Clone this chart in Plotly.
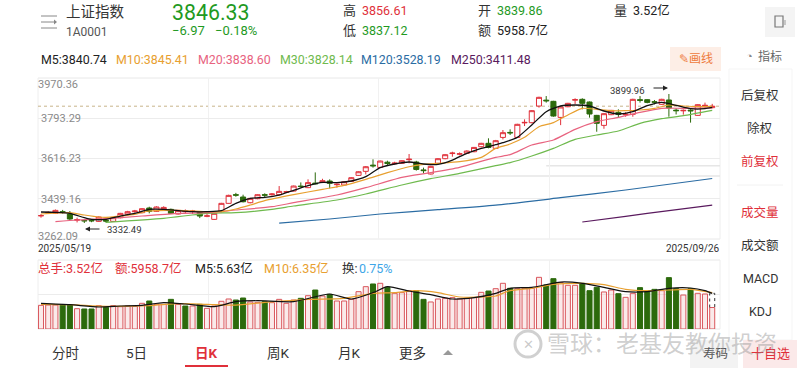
import plotly.graph_objects as go

# ---------- data ----------
opens = [3364,3376,3375,3382,3372,3345,3344,3344,3339.7,3344,3339.7,3355.8,3372,3382,3377.8,3398.4,3383.7,3392.5,3392.5,3372,3382,3383,3380.8,3362,3348.5,3382.2,3418.9,3457,3446.8,3421.8,3439.4,3457,
3457,3457,3468,3473,3495,3488,3508,3511,3517,3501,3499.6,3515.7,3542,3559.7,3587,3577,3600,3593,3595,3611,3600.8,3566,3548,3595,3615.4,3638,3635,3639,3646,3668,3683,
3660.9,3709,3731,3709,3773,3773.8,3847,3873,3867.7,3797,3844,3873,3876.5,3864.8,3806,3762,3809,3819,3809,3810.5,3875,3875,3866,3854.5,3873.6,3829,3826,3829,3806,3847,3839.86]
closes = [3365,3379,3388,3380,3350,3347,3342,3342,3358.8,3341,3355.8,3374.9,3382.2,3385,3395.4,3383.7,3402.8,3401,3375,3388,3385,3385,3363,3364,3375,3418.9,3454,3455,3426,3440.9,3457,3455,
3460,3471.7,3470,3495,3493,3510,3505,3518.6,3507,3503,3514,3531.8,3558,3580,3584,3605,3594,3596,3606.6,3613,3568,3563,3581.7,3615.4,3633,3640,3637,3649,3665,3683,3665,
3694.6,3729.8,3729,3766.5,3775,3826.6,3885.3,3870,3803,3842.8,3858.9,3875,3858.9,3812,3771,3813.4,3828,3810.5,3811,3876.5,3872,3863,3864,3876.5,3838,3826.6,3828,3826,3853,3850,3846.33]
highs = [3372,3384,3392,3390,3385,3356,3348,3349,3362,3350,3358,3377,3386,3390,3398,3404,3406,3406,3396,3390,3392,3390,3384,3372,3377,3421,3457,3465,3457,3443,3459,3463,
3464,3495,3474,3497,3511,3524.5,3555,3527,3524.5,3507,3517,3534,3560,3583,3612.5,3607,3606.6,3602,3609,3636,3606,3576,3584,3618,3635,3646,3643,3652,3667,3685,3705,
3698,3741.6,3744.5,3769,3788.5,3829,3888,3891,3870,3845,3861,3881,3881,3867,3808,3816,3830,3832.5,3820,3879,3891,3877,3873.6,3879,3899.96,3837,3832,3833,3855,3862,3856.61]
lows = [3356,3372,3372,3374,3346,3335,3332.49,3336,3337,3334,3338,3353,3370,3378,3375,3375,3381,3390,3372,3370,3375,3372,3354,3358,3346,3380,3417,3448,3423,3419,3437,3447,
3453,3455,3464,3471,3489,3486,3503,3508,3485,3488,3497,3514,3540,3546,3576,3575,3586,3589,3593,3595,3563,3551,3546,3593,3613,3624,3630,3637,3644,3666,3661,
3658,3700,3719.6,3707,3759,3771,3840,3862,3800,3763,3842,3856,3832.5,3796,3734,3747,3807,3797,3800,3800,3862,3859,3854.5,3852,3800,3810,3809,3774,3804,3837,3837.12]

m5_x = [0,2,4,6,7,9,11,13,15,17,19,21,23,25,27,29,31,33,35,37,39,41,43,45,47,49,51,53,55,57,59,61,63,64,66,68,70,72,74,76,78,80,82,84,86,88,90,92,93]
m5 = [3380.8,3379.3,3374.9,3355.8,3348.5,3348.5,3363,3375,3392.5,3392.5,3386.6,3382.2,3382.2,3386.6,3418.9,3440.9,3445.3,3455.5,3476,3496.6,3511.3,3509.8,3517.2,3536.2,3575.8,3592,3600.8,3592,3590.5,3609.5,3638.9,3660.9,3677,3685.8,3709.3,3763.6,3822.2,3847.2,3851.6,3847.2,3825.2,3812,3822.2,3848.6,3863.3,3850,3835.4,3835.4,3840.74]
m10_x = [0,4,6,8,9,11,13,15,19,23,25,27,29,31,35,39,42,45,48,51,53,55,58,61,63,65,67,69,71,73,75,77,79,81,83,85,87,89,91,93]
m10 = [3372,3377.8,3367.6,3358.8,3357.3,3363.2,3370.5,3385.2,3388,3382.2,3382.2,3394,3411.6,3430.6,3457,3480.5,3498,3524.5,3553.8,3580,3590.5,3594.9,3602.2,3621.3,3660.9,3680,3709.3,3756.2,3773.8,3807.6,3836.9,3832.5,3826.6,3826.6,3829.6,3836.9,3851.6,3847.2,3844.2,3845.41]
m20_x = [2,5,9,14,19,23,27,32,35,41,45,50,54,58,63,65,68,71,74,77,80,83,86,89,93]
m20 = [3338.2,3345.6,3351.4,3363.2,3375,3377.8,3389.6,3404.2,3421.8,3455.6,3487.8,3533.3,3553.8,3577.3,3621.3,3633,3675.6,3697.6,3744.5,3778.2,3797.3,3819.3,3836.9,3836.9,3838.6]
m30_x = [9,17,23,27,32,35,41,45,50,54,58,63,65,68,71,74,77,80,83,86,89,93]
m30 = [3335.3,3352.9,3375,3377.8,3392.5,3407.2,3433.6,3460,3499.6,3527.4,3550.9,3584.6,3597.8,3627.2,3660.9,3700.5,3719.6,3737.2,3770.9,3791.4,3804.6,3828.14]
m120_x = [33,40,47,55,63,72,81,93]
m120 = [3332,3350,3372,3391,3411,3443.7,3477.6,3528.19]
m250_x = [75,81,87,93]
m250 = [3337,3362,3387,3411.48]

volumes = [3.88,3.93,3.93,3.93,3.93,3.33,3.28,3.28,3.83,3.55,3.83,3.66,3.77,3.72,4.21,4.59,4.04,4.04,4.86,4.04,3.77,3.77,4.04,3.39,3.77,4.54,4.92,4.75,5.08,4.43,4.37,4.48,
4.32,4.86,4.21,4.75,5.03,5.46,6.39,5.41,5.68,4.59,4.59,4.86,6.12,6.94,7.38,7.49,6.83,5.85,5.96,6.28,6.28,4.86,4.43,4.92,5.03,5.14,4.92,5.03,5.14,6.01,6.23,
6.61,7.49,6.67,6.61,6.67,6.67,8.47,7.21,8.25,7.6,7.16,7.16,7.49,6.28,6.83,6.07,6.39,5.79,5.19,5.85,6.78,6.12,6.5,6.28,8.42,6.61,5.57,6.61,5.85,5.74,3.52]
down_vol_days = [3,4,6,7,9,15,18,20,22,27,28,31,36,38,40,46,48,52,53,62,65,70,71,75,76,77,80,83,84,85,87,88,90]
forecast_volume = 5.85
vol_m5_x = [0,4,8,11,14,17,20,24,27,30,35,40,43,46,48,51,54,57,60,63,65,68,72,75,78,81,84,87,90,92,93]
vol_m5 = [4.21,3.99,3.61,3.77,3.88,4.32,4.10,3.66,4.48,4.64,4.48,5.74,4.92,5.96,6.94,6.23,5.63,4.92,5.14,5.85,6.67,6.83,7.7,7.49,6.83,6.12,6.12,6.67,6.72,6.28,5.85]
vol_m10_x = [0,4,9,15,19,23,27,31,37,42,46,49,52,55,58,62,63,65,68,71,75,78,81,84,87,90,93]
vol_m10 = [4.04,3.99,3.72,3.83,4.15,4.04,3.93,4.37,4.86,5.03,5.85,5.96,6.28,5.96,5.25,5.30,5.41,6.28,6.67,7.32,7.49,7.27,6.5,6.28,6.39,6.5,5.96]

price_ticks = [3262.09, 3439.16, 3616.23, 3793.29, 3970.36]
price_labels = ["", "3439.16", "3616.23", "3793.29", ""]
last_price = 3846.33
level_lines = [(70, 3584.6), (54, 3539)]

# ---------- styles ----------
RED, GREEN_UP = "#e0303a", "#1f9a1f"
K_GREEN = "#2c6a0c"
W, H = 800, 368
PL, PR, PT, PB, VT, VB = 38, 720, 78, 239, 260, 329
xr = [-0.416, 94.08]
CJK = "Roboto, 'Noto Sans CJK SC', sans-serif"

fig = go.Figure()
fig.add_trace(go.Candlestick(x=list(range(len(opens))), open=opens, high=highs, low=lows, close=closes,
    whiskerwidth=0, xaxis="x", yaxis="y", showlegend=False,
    increasing=dict(line=dict(color=RED, width=1), fillcolor="white"),
    decreasing=dict(line=dict(color=K_GREEN, width=1), fillcolor=K_GREEN)))
for xs, ys, c, w in [(m250_x, m250, "#5a1a5e", 1.2), (m120_x, m120, "#2b6ca3", 1.2), (m30_x, m30, "#6fba4e", 1.2),
                     (m20_x, m20, "#e8637f", 1.2), (m10_x, m10, "#e8a030", 1.2), (m5_x, m5, "#111111", 1.3)]:
    fig.add_trace(go.Scatter(x=xs, y=ys, mode="lines", line=dict(color=c, width=w, shape="spline", smoothing=0.6),
                             xaxis="x", yaxis="y", showlegend=False, hoverinfo="skip"))

idx = list(range(len(volumes)))
up_i = [i for i in idx if i not in down_vol_days]
fig.add_trace(go.Bar(x=up_i, y=[volumes[i] for i in up_i], width=0.7, xaxis="x2", yaxis="y2", showlegend=False,
                     marker=dict(color="rgba(232,160,160,0.22)", line=dict(color="#d9565c", width=1))))
fig.add_trace(go.Bar(x=down_vol_days, y=[volumes[i] for i in down_vol_days], width=0.7, xaxis="x2", yaxis="y2", showlegend=False,
                     marker=dict(color=K_GREEN, line=dict(color=K_GREEN, width=1))))
last = idx[-1]
fig.add_trace(go.Scatter(x=[last-0.35, last-0.35, last+0.35, last+0.35], y=[volumes[last], forecast_volume, forecast_volume, volumes[last]],
                         mode="lines", line=dict(color="#333333", width=1, dash="dot"), xaxis="x2", yaxis="y2", showlegend=False, hoverinfo="skip"))
for xs, ys, c in [(vol_m10_x, vol_m10, "#e8a030"), (vol_m5_x, vol_m5, "#111111")]:
    fig.add_trace(go.Scatter(x=xs, y=ys, mode="lines", line=dict(color=c, width=1.2, shape="spline", smoothing=0.6),
                             xaxis="x2", yaxis="y2", showlegend=False, hoverinfo="skip"))

v_grid = [23.2, 46.8, 70.5]
fig.update_layout(
    width=W, height=H, margin=dict(l=0, r=0, t=0, b=0), paper_bgcolor="white", plot_bgcolor="white",
    barmode="overlay", boxmode="overlay", boxgap=0.3, boxgroupgap=0, showlegend=False, font=dict(family=CJK),
    xaxis=dict(domain=[PL/W, PR/W], range=xr, rangeslider=dict(visible=False), tickvals=v_grid, showticklabels=False,
               ticks="", gridcolor="#f1f1f1", gridwidth=1, zeroline=False, anchor="y"),
    yaxis=dict(domain=[1-PB/H, 1-PT/H], range=[price_ticks[0], price_ticks[-1]], tickvals=price_ticks, ticktext=price_labels,
               ticklabelposition="inside", tickfont=dict(size=11, color="#8a8a8a", family=CJK), ticks="",
               gridcolor="#ececec", gridwidth=1, zeroline=False, anchor="x", showline=False),
    xaxis2=dict(domain=[PL/W, PR/W], range=xr, tickvals=v_grid, showticklabels=False, ticks="", gridcolor="#f1f1f1", zeroline=False, anchor="y2"),
    yaxis2=dict(domain=[1-VB/H, 1-VT/H], range=[0, (VB-VT)/6.1], tickvals=[0, 5.65, 11.31], showticklabels=False, ticks="",
                gridcolor="#ececec", zeroline=False, anchor="x2"),
)

def px(x): return x/W
def py(y): return 1-y/H

def T(x, y, s, size=12, color="#222222", anchor="left", bold=False, fam=CJK):
    fig.add_annotation(x=px(x), y=py(y), xref="paper", yref="paper", text=("<b>%s</b>" % s if bold else s), showarrow=False,
                       xanchor=anchor, yanchor="middle", font=dict(size=size, color=color, family=fam), borderpad=0, borderwidth=0)

def R(x0, y0, x1, y1, fill=None, line=None, lw=1, layer="below", kind="rect"):
    fig.add_shape(type=kind, xref="paper", yref="paper", x0=px(x0), x1=px(x1), y0=py(y0), y1=py(y1), layer=layer,
                  fillcolor=fill, line=dict(color=line or "rgba(0,0,0,0)", width=lw if line else 0))

def L(x0, y0, x1, y1, c, w=1, dash=None, layer="below"):
    fig.add_shape(type="line", xref="paper", yref="paper", x0=px(x0), x1=px(x1), y0=py(y0), y1=py(y1), layer=layer,
                  line=dict(color=c, width=w, dash=dash))

# reference lines
for start, lv in level_lines:
    fig.add_shape(type="line", xref="x", yref="y", x0=start, x1=xr[1], y0=lv, y1=lv, layer="below", line=dict(color="#e6e6e6", width=1.5))
fig.add_shape(type="line", xref="x", yref="y", x0=xr[0], x1=xr[1], y0=last_price, y1=last_price, layer="below", line=dict(color="#c9b48a", width=1, dash="dot"))

# header
L(41, 16, 57, 16, "#888888"); L(41, 28, 57, 28, "#888888"); L(41, 22, 54, 22, "#888888")
fig.add_shape(type="path", xref="paper", yref="paper", path=f"M {px(54)} {py(19.5)} L {px(57)} {py(22)} L {px(54)} {py(24.5)} Z", fillcolor="#888888", line=dict(width=0))
T(66, 13, "上证指数", 14.5, "#333333")
T(66, 32, "1A0001", 12, "#555555")
T(172, 13, "3846.33", 21.3, GREEN_UP)
T(172, 31, "−6.97", 13, GREEN_UP)
T(215, 31, "−0.18%", 13, GREEN_UP)
for x, lab, y, val, col in [(343, "高", 11, "3856.61", RED), (343, "低", 30, "3837.12", GREEN_UP),
                            (478, "开", 11, "3839.86", GREEN_UP), (478, "额", 30, "5958.7亿", "#222222"), (614, "量", 11, "3.52亿", "#222222")]:
    T(x, y, lab, 13, "#333333")
    T(x+19, y, val, 12.5, col)
R(765, 7, 795, 37, fill="#f4f4f4", layer="below")
R(775, 16, 783, 27, line="#777777", lw=1.2, layer="above")
L(785, 20, 785, 25, "#999999")

# moving-average row
for x, s, c in [(41, "M5:3840.74", "#222222"), (116, "M10:3845.41", "#e8a030"), (198, "M20:3838.60", "#e8637f"),
                (280, "M30:3828.14", "#6fba4e"), (361, "M120:3528.19", "#2b6ca3"), (451, "M250:3411.48", "#5a1a5e")]:
    T(x, 59, s, 12.4, c)
R(670, 47, 721, 71, fill="#fdeee6")
T(696, 59, "✎画线", 12, "#ee7a3c", "center")

# plot frame
L(PL, PT, PR, PT, "#e8e8e8"); L(PL, PB, PR, PB, "#e8e8e8"); L(PL, PT, PL, PB, "#eeeeee"); L(PR, PT, PR, PB, "#eeeeee")
L(PL, VT, PR, VT, "#e8e8e8"); L(PL, VB, PR, VB, "#e8e8e8"); L(PL, VT, PL, VB, "#eeeeee"); L(PR, VT, PR, VB, "#eeeeee")

# end labels and price markers
T(38, 85, "3970.36", 11, "#8a8a8a")
T(38, 236, "3262.09", 11, "#8a8a8a")
T(38, 249, "2025/05/19", 10, "#333333")
T(720, 249, "2025/09/26", 10, "#333333", "right")
T(107, 229, "3332.49", 9.5, "#333333")
T(610, 91, "3899.96", 9.5, "#333333")
for x0, x1, y in [(101, 85, 229), (652, 668, 88)]:
    fig.add_annotation(x=px(x1), y=py(y), ax=x0-x1, ay=0, xref="paper", yref="paper", axref="pixel", ayref="pixel", text="",
                       showarrow=True, arrowhead=2, arrowwidth=1, arrowsize=1, arrowcolor="#222222")

# volume legend
T(38, 268, "总手:3.52亿", 12.5, RED)
T(115, 268, "额:5958.7亿", 12.5, RED)
T(195, 268, "M5:5.63亿", 12.5, "#222222")
T(264, 268, "M10:6.35亿", 12.5, "#e8a030")
T(342, 268, "换:", 12.5, "#333333")
T(359, 268, "0.75%", 12.5, "#3ea6e8")

# right panel
R(729, 69, 792, 340, line="#f5f5f5")
T(749, 56, "◔", 11, "#888888", "center")
T(770, 56, "指标", 12, "#666666", "center")
for y, s, c in [(95, "后复权", "#333333"), (128, "除权", "#333333"), (161, "前复权", RED), (212, "成交量", RED),
                (245, "成交额", "#333333"), (278, "MACD", "#333333"), (311, "KDJ", "#333333")]:
    T(760, y, s, 12.5, c, "center")
L(737, 185, 783, 185, "#f2f2f2")

# bottom tabs
for x, s, c, b in [(65, "分时", "#333333", False), (136, "5日", "#333333", False), (207, "日K", RED, True),
                   (278, "周K", "#333333", False), (349, "月K", "#333333", False), (412, "更多", "#333333", False)]:
    T(x, 353, s, 13.5, c, "center", b)
L(185, 366, 228, 366, RED, 2)
fig.add_shape(type="path", xref="paper", yref="paper", path=f"M {px(443)} {py(355)} L {px(448)} {py(350)} L {px(453)} {py(355)} Z", fillcolor="#999999", line=dict(width=0))
R(690, 340, 738, 368, fill="#f3f3f3")
T(715, 353, "寿码", 12.5, "#555555", "center")
R(743, 340, 797, 368, fill="#fbe9e9")
T(770, 353, "十自选", 13, RED, "center")

# watermark
R(515, 331, 541, 357, line="rgba(150,150,150,0.45)", lw=3, layer="above", kind="circle")
T(528, 344, "✕", 13, "rgba(150,150,150,0.5)", "center")
T(547, 344, "雪球：老基友教你投资", 23, "rgba(140,140,140,0.42)", "left")

fig.write_html("out.html", config=dict(displayModeBar=False), post_script="document.body.style.margin='0';")
